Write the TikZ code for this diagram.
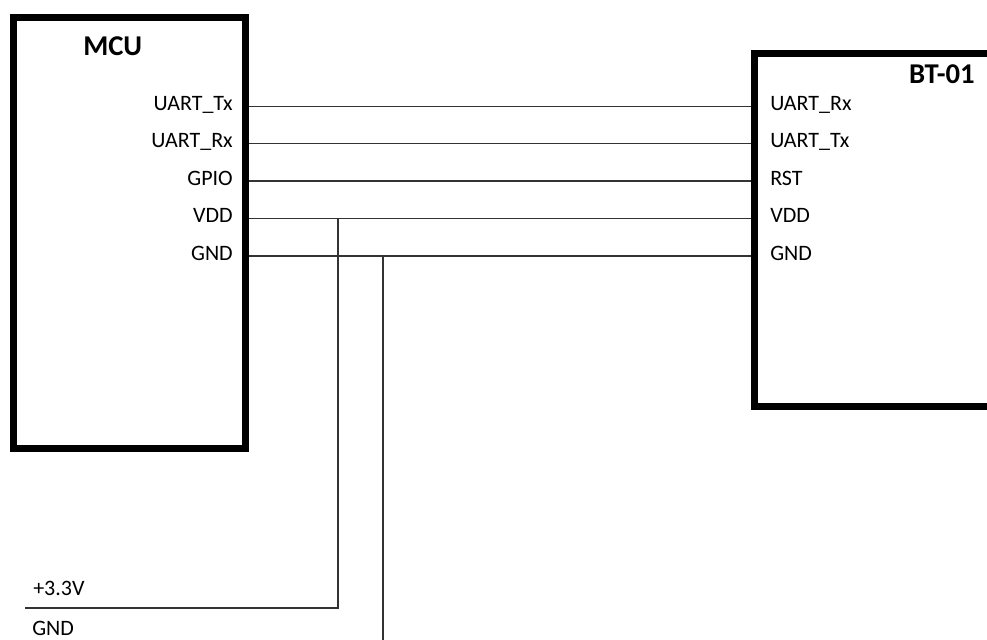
\documentclass[tikz,border=0pt]{standalone}
\usepackage{fontspec}
\setmainfont{Carlito}
\usetikzlibrary{positioning}
\tikzset{
  chip/.style={draw, line width=5.25pt, inner sep=0pt},
  wire/.style={draw=black!80, line width=1.3pt},
  pin/.style={font=\fontsize{16.5}{18}\selectfont, inner sep=0pt},
  title/.style={font=\fontsize{21.5}{24}\selectfont\bfseries, inner sep=0pt}
}
\begin{document}
\begin{tikzpicture}[x=0.75pt, y=-0.75pt]
\useasboundingbox (0,0) rectangle (987,639);
\clip (0,0) rectangle (987,639);

% the two chips
\node[chip, minimum width=174pt, minimum height=323.25pt] (mcu) at (129.5,232.5) {};
\node[chip, minimum width=207pt, minimum height=264.75pt] (bt) at (892,230) {};
\node[title, anchor=base west] (mcu title) at (83,55) {MCU};
\node[title, anchor=base east] (bt title) at (975,83) {BT-01};

% pin rows and the wires between them
\foreach \y/\a/\b [count=\i] in {106.5/UART\_Tx/UART\_Rx, 143.5/UART\_Rx/UART\_Tx, 181/GPIO/RST, 218.5/VDD/VDD, 256/GND/GND} {
  \node[pin, anchor=base east] (mcu pin\i) at (233,\y+4) {\a};
  \node[pin, anchor=base west] (bt pin\i) at (770,\y+4) {\b};
  \coordinate (m\i) at (mcu.east |- 0,\y);
  \coordinate (b\i) at (bt.west |- 0,\y);
  \draw[wire] (m\i) -- (b\i);
}

% supply taps
\coordinate (vdd tap) at (338.3,0 |- m4);
\coordinate (vdd end) at (25,608.3);
\coordinate (gnd tap) at (383.3,0 |- m5);
\coordinate (gnd end) at (383.3,650);
\node[pin, anchor=base west] (supply) at (33,595) {+3.3V};
\node[pin, anchor=base west] (ground) at (32,635) {GND};
\draw[wire] (vdd tap) |- (vdd end);
\draw[wire] (gnd tap) -- (gnd end);
\end{tikzpicture}
\end{document}
